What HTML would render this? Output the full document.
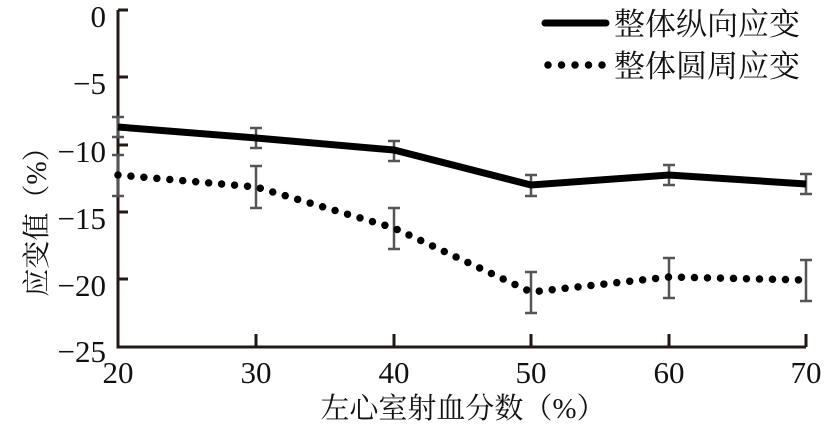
<!DOCTYPE html>
<html><head><meta charset="utf-8"><style>
html,body{margin:0;padding:0;background:#fff;}
svg{display:block;}
svg text{font-family:"Liberation Serif","DejaVu Serif","Noto Serif CJK SC","Noto Serif CJK",serif;fill:#111;}
</style></head><body>
<svg width="830" height="432" viewBox="0 0 830 432">
<g stroke="#231815" stroke-width="3" fill="none">
<path d="M118,10 V347 H806"/>
<path d="M118,10 H128 M118,77 H128 M118,145 H128 M118,212 H128 M118,279 H128"/>
<path d="M256,347 V334 M394,347 V334 M531,347 V334 M669,347 V334 M806,347 V334"/>
</g>
<g font-size="31" text-anchor="end">
<text x="106" y="27">0</text>
<text x="106" y="94">−5</text>
<text x="106" y="162">−10</text>
<text x="106" y="229">−15</text>
<text x="106" y="296">−20</text>
<text x="106" y="362">−25</text>
</g>
<g font-size="31" text-anchor="middle">
<text x="118" y="383">20</text>
<text x="256" y="383">30</text>
<text x="394" y="383">40</text>
<text x="531" y="383">50</text>
<text x="669" y="383">60</text>
<text x="806" y="383">70</text>
</g>
<text x="463" y="418" font-size="29" text-anchor="middle">左心室射血分数（%）</text>
<text transform="translate(46,215) rotate(-90)" font-size="28" text-anchor="middle">应变值（%）</text>
<g stroke="#555" stroke-width="2.5" fill="none">
<path d="M118,117V137M112,117H124M112,137H124"/>
<path d="M118,155V196M112,155H124M112,196H124"/>
<path d="M256,128V148M250,128H262M250,148H262"/>
<path d="M256,166V208M250,166H262M250,208H262"/>
<path d="M394,141V161M388,141H400M388,161H400"/>
<path d="M394,208V249M388,208H400M388,249H400"/>
<path d="M531,175V196M525,175H537M525,196H537"/>
<path d="M531,272V313M525,272H537M525,313H537"/>
<path d="M669,165V185M663,165H675M663,185H675"/>
<path d="M669,258V298M663,258H675M663,298H675"/>
<path d="M806,174V194M800,174H812M800,194H812"/>
<path d="M806,260V301M800,260H812M800,301H812"/>
</g>
<polyline points="118,127 256,138 394,150 531,185 669,175 806,184" fill="none" stroke="#000" stroke-width="7"/>
<polyline points="118,175 256,187 394,228 531,292 669,277 806,280" fill="none" stroke="#000" stroke-width="7.5" stroke-linecap="round" stroke-dasharray="0 13"/>
<line x1="545" y1="23" x2="606" y2="23" stroke="#000" stroke-width="7" stroke-linecap="round"/>
<line x1="548" y1="65" x2="604" y2="65" stroke="#000" stroke-width="7.5" stroke-linecap="round" stroke-dasharray="0 13.5"/>
<g font-size="31">
<text x="614" y="35">整体纵向应变</text>
<text x="614" y="77">整体圆周应变</text>
</g>
</svg>
</body></html>
